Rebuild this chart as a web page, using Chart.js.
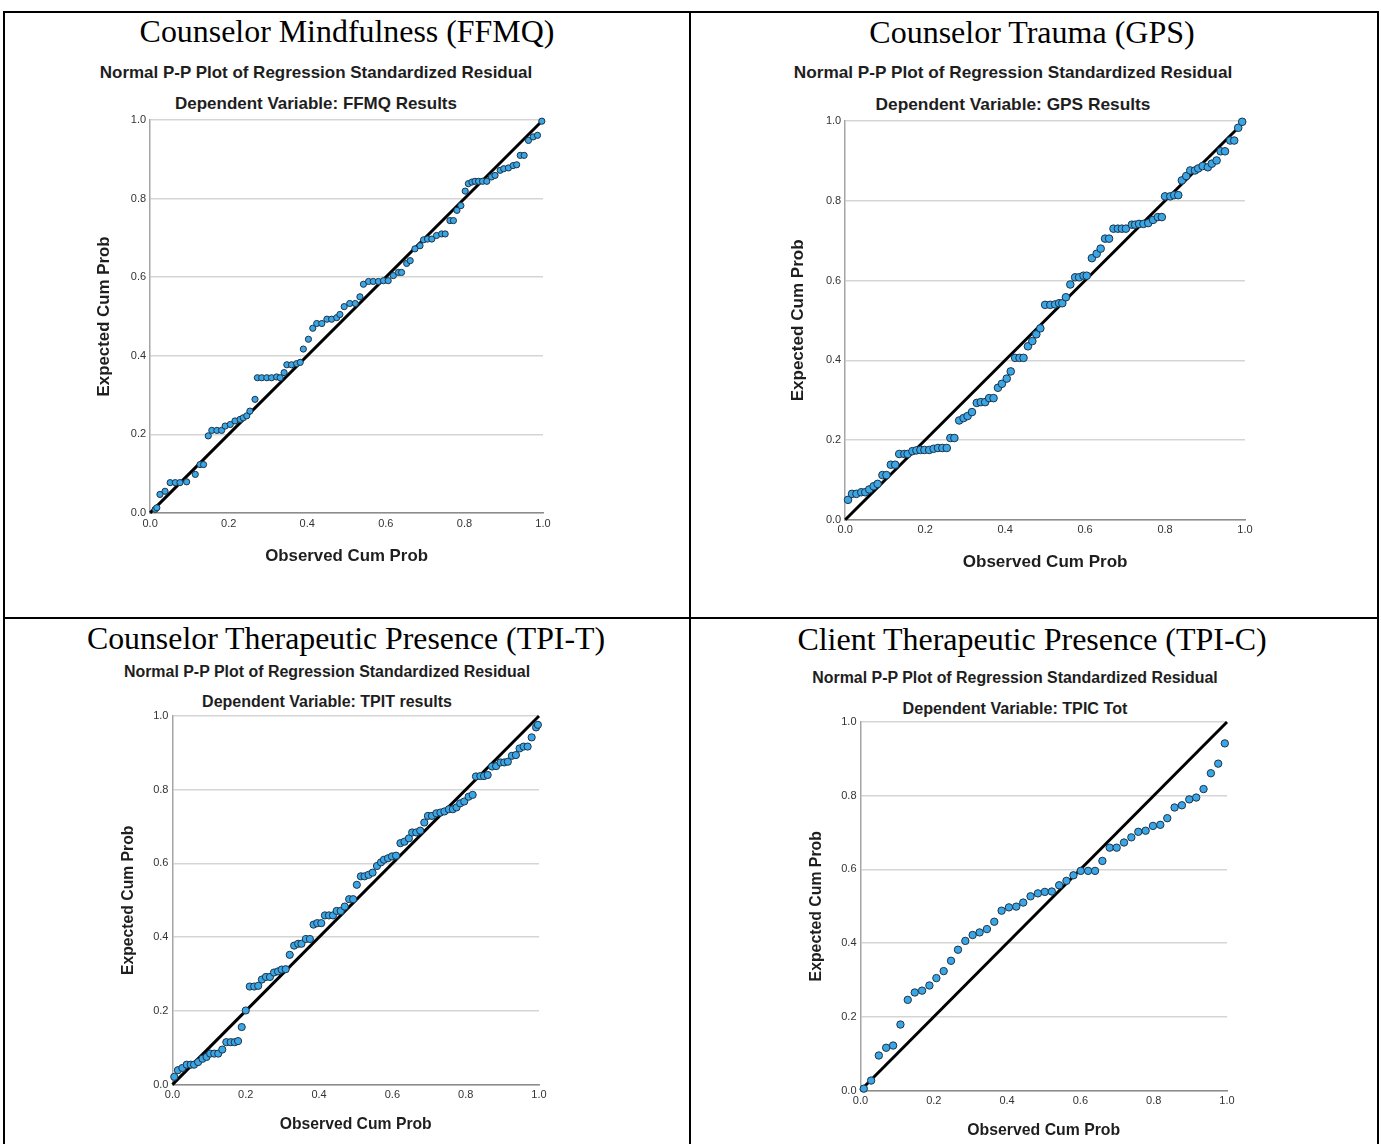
<!DOCTYPE html>
<html><head><meta charset="utf-8">
<script src="https://cdn.jsdelivr.net/npm/chart.js@4.4.1/dist/chart.umd.min.js"></script>
<style>
html,body{margin:0;padding:0;background:#fff}
body{width:1381px;height:1144px;position:relative;overflow:hidden;font-family:"Liberation Sans",Arial,sans-serif}
.b{position:absolute;background:#000}
.t{position:absolute;white-space:nowrap;transform:translate(-50%,-50%);line-height:1}
.main{font-family:"Liberation Serif","Times New Roman",serif;color:#000}
.sub{font-weight:bold;color:#1e1e1e}
canvas{position:absolute}
</style></head><body>
<div class="b" style="left:3px;top:11px;width:1376px;height:2px"></div>
<div class="b" style="left:3px;top:617px;width:1376px;height:2px"></div>
<div class="b" style="left:3px;top:11px;width:2px;height:1140px"></div>
<div class="b" style="left:689px;top:11px;width:2px;height:1140px"></div>
<div class="b" style="left:1377px;top:11px;width:2px;height:1140px"></div>
<script>
// ---------- data ----------
const tickValues = [0.0, 0.2, 0.4, 0.6, 0.8, 1.0];
const xAxisLabel = "Observed Cum Prob";
const yAxisLabel = "Expected Cum Prob";
const panelTitles = ["Counselor Mindfulness (FFMQ)", "Counselor Trauma (GPS)", "Counselor Therapeutic Presence (TPI-T)", "Client Therapeutic Presence (TPI-C)"];
const plotTitle = "Normal P-P Plot of Regression Standardized Residual";
const dependentLabels = ["Dependent Variable: FFMQ Results", "Dependent Variable: GPS Results", "Dependent Variable: TPIT results", "Dependent Variable: TPIC Tot"];

const ffmqObserved = [0.013,0.017,0.025,0.038,0.051,0.064,0.076,0.093,0.115,0.127,0.136,0.148,0.157,0.170,0.182,0.191,0.204,0.216,0.229,0.237,0.246,0.254,0.267,0.273,0.284,0.297,0.309,0.322,0.331,0.341,0.348,0.360,0.373,0.382,0.390,0.403,0.414,0.424,0.437,0.450,0.462,0.475,0.483,0.494,0.508,0.522,0.534,0.543,0.556,0.568,0.581,0.594,0.606,0.619,0.632,0.640,0.653,0.662,0.674,0.687,0.696,0.706,0.717,0.729,0.742,0.751,0.763,0.772,0.781,0.791,0.802,0.810,0.819,0.827,0.836,0.846,0.857,0.869,0.878,0.891,0.900,0.912,0.924,0.933,0.942,0.952,0.963,0.975,0.986,0.997];
const ffmqExpected = [0.009,0.013,0.047,0.055,0.077,0.077,0.077,0.079,0.098,0.123,0.123,0.196,0.210,0.210,0.210,0.221,0.225,0.234,0.238,0.242,0.247,0.259,0.289,0.344,0.344,0.344,0.344,0.346,0.344,0.357,0.377,0.377,0.380,0.383,0.417,0.442,0.470,0.482,0.482,0.493,0.493,0.497,0.505,0.525,0.533,0.533,0.550,0.582,0.589,0.589,0.589,0.591,0.591,0.604,0.612,0.612,0.635,0.642,0.672,0.680,0.695,0.697,0.697,0.706,0.710,0.710,0.744,0.744,0.770,0.782,0.819,0.838,0.842,0.844,0.844,0.844,0.844,0.855,0.859,0.872,0.876,0.878,0.884,0.886,0.910,0.910,0.948,0.957,0.961,0.997];

const gpsObserved = [0.007,0.017,0.028,0.040,0.050,0.060,0.071,0.081,0.093,0.103,0.114,0.125,0.135,0.148,0.156,0.168,0.178,0.188,0.198,0.210,0.221,0.232,0.243,0.254,0.263,0.273,0.285,0.296,0.306,0.317,0.329,0.339,0.350,0.360,0.371,0.382,0.392,0.404,0.414,0.425,0.436,0.446,0.457,0.468,0.478,0.488,0.500,0.513,0.525,0.535,0.543,0.552,0.563,0.575,0.585,0.596,0.604,0.617,0.629,0.639,0.650,0.660,0.671,0.682,0.692,0.702,0.717,0.725,0.735,0.746,0.758,0.770,0.782,0.792,0.800,0.813,0.823,0.833,0.842,0.853,0.863,0.875,0.883,0.894,0.907,0.917,0.929,0.939,0.950,0.963,0.973,0.983,0.993];
const gpsExpected = [0.050,0.065,0.065,0.069,0.069,0.076,0.084,0.090,0.112,0.112,0.138,0.138,0.165,0.165,0.165,0.172,0.174,0.175,0.175,0.175,0.178,0.180,0.180,0.180,0.205,0.205,0.249,0.255,0.260,0.270,0.293,0.295,0.295,0.305,0.305,0.331,0.341,0.354,0.372,0.406,0.406,0.406,0.435,0.448,0.465,0.480,0.539,0.539,0.540,0.543,0.543,0.558,0.590,0.608,0.608,0.612,0.612,0.656,0.667,0.680,0.705,0.705,0.730,0.730,0.730,0.730,0.740,0.740,0.742,0.742,0.744,0.752,0.759,0.759,0.811,0.811,0.814,0.814,0.851,0.862,0.876,0.876,0.881,0.887,0.884,0.893,0.901,0.924,0.924,0.951,0.951,0.983,0.998];

const tpitObserved = [0.005,0.015,0.027,0.039,0.050,0.059,0.070,0.082,0.093,0.103,0.114,0.125,0.136,0.147,0.159,0.170,0.179,0.189,0.200,0.211,0.223,0.234,0.244,0.255,0.266,0.277,0.288,0.298,0.309,0.320,0.332,0.343,0.352,0.364,0.375,0.385,0.395,0.406,0.416,0.427,0.438,0.448,0.459,0.470,0.482,0.493,0.503,0.514,0.524,0.535,0.546,0.558,0.569,0.577,0.588,0.599,0.610,0.622,0.633,0.645,0.654,0.665,0.676,0.687,0.697,0.708,0.720,0.731,0.742,0.754,0.765,0.775,0.785,0.796,0.808,0.819,0.828,0.840,0.850,0.860,0.872,0.883,0.895,0.905,0.915,0.926,0.937,0.947,0.958,0.969,0.980,0.992,0.997];
const tpitExpected = [0.021,0.039,0.045,0.054,0.054,0.054,0.061,0.070,0.075,0.084,0.084,0.084,0.095,0.115,0.115,0.115,0.118,0.156,0.201,0.266,0.266,0.268,0.285,0.292,0.292,0.304,0.307,0.312,0.313,0.352,0.377,0.382,0.382,0.395,0.395,0.434,0.438,0.438,0.459,0.459,0.459,0.471,0.471,0.483,0.503,0.503,0.542,0.565,0.565,0.569,0.575,0.593,0.603,0.610,0.614,0.619,0.621,0.655,0.659,0.668,0.684,0.684,0.689,0.711,0.729,0.729,0.736,0.738,0.741,0.747,0.747,0.752,0.763,0.768,0.781,0.786,0.836,0.837,0.837,0.840,0.863,0.864,0.874,0.874,0.876,0.892,0.894,0.912,0.917,0.917,0.942,0.969,0.976];

const tpicObserved = [0.009,0.029,0.050,0.070,0.089,0.109,0.129,0.148,0.168,0.188,0.207,0.227,0.247,0.266,0.286,0.306,0.325,0.345,0.365,0.385,0.405,0.425,0.444,0.464,0.484,0.503,0.522,0.542,0.562,0.581,0.601,0.621,0.640,0.660,0.680,0.699,0.719,0.739,0.758,0.778,0.798,0.818,0.837,0.857,0.877,0.897,0.916,0.936,0.956,0.976,0.994];
const tpicExpected = [0.005,0.027,0.095,0.116,0.122,0.179,0.246,0.266,0.271,0.285,0.305,0.324,0.352,0.382,0.406,0.422,0.429,0.438,0.458,0.488,0.497,0.499,0.510,0.527,0.535,0.539,0.540,0.557,0.569,0.584,0.596,0.596,0.596,0.623,0.659,0.659,0.673,0.687,0.702,0.705,0.718,0.721,0.739,0.768,0.774,0.790,0.795,0.818,0.861,0.887,0.942];

// ---------- layout ----------
const panels = [
  {obs: ffmqObserved, exp: ffmqExpected, L:150, R:543, T:120, B:513, yTX:104, xTY:556, titleC:[347,32], subC:[316,72], depC:[316,104], subW:433, depW:282, axW:163, r:3.1, lw:3},
  {obs: gpsObserved, exp: gpsExpected, L:845, R:1245, T:121, B:520, yTX:798, xTY:563, titleC:[1032,32], subC:[1013,73], depC:[1013,105], subW:439, depW:275, axW:165, r:3.8, lw:3},
  {obs: tpitObserved, exp: tpitExpected, L:172, R:539, T:716, B:1085, yTX:128, xTY:1125, titleC:[346,639], subC:[327,672], depC:[327,702], subW:407, depW:250, axW:152, r:3.6, lw:3},
  {obs: tpicObserved, exp: tpicExpected, L:860, R:1227, T:722, B:1091, yTX:816, xTY:1131, titleC:[1032,639], subC:[1015,678], depC:[1015,708], subW:406, depW:225, axW:153, r:3.7, lw:3}
];
const mainTitleWidths = [415, 326, 519, 470];

const FAM = '"Liberation Sans", Arial, sans-serif';
const mctx = document.createElement('canvas').getContext('2d');
function fitSize(text, weight, family, target) {
  mctx.font = weight + ' 100px ' + family;
  return 100 * target / mctx.measureText(text).width;
}
function addText(text, cls, cx, cy, size, family, weight) {
  const d = document.createElement('div');
  d.className = 't ' + cls;
  d.textContent = text;
  d.style.left = cx + 'px';
  d.style.top = cy + 'px';
  d.style.fontSize = size + 'px';
  d.style.fontFamily = family;
  d.style.fontWeight = weight;
  document.body.appendChild(d);
}

panels.forEach((p, i) => {
  const serif = '"Liberation Serif", "Times New Roman", serif';
  addText(panelTitles[i], 'main', p.titleC[0], p.titleC[1], fitSize(panelTitles[i], 'normal', serif, mainTitleWidths[i]), serif, 'normal');
  addText(plotTitle, 'sub', p.subC[0], p.subC[1], fitSize(plotTitle, 'bold', FAM, p.subW), FAM, 'bold');
  addText(dependentLabels[i], 'sub', p.depC[0], p.depC[1], fitSize(dependentLabels[i], 'bold', FAM, p.depW), FAM, 'bold');

  const axSize = fitSize(xAxisLabel, 'bold', FAM, p.axW);
  const lh = axSize * 1.2;
  const padTop = 12, padRight = 16;
  const canvasLeft = p.yTX - lh / 2;
  const yW = p.L - canvasLeft;
  const canvasBottom = p.xTY + lh / 2;
  const xH = canvasBottom - p.B;
  const cw = Math.round(yW + (p.R - p.L) + padRight);
  const ch = Math.round(padTop + (p.B - p.T) + xH);
  const cv = document.createElement('canvas');
  cv.width = cw; cv.height = ch;
  cv.style.left = canvasLeft + 'px';
  cv.style.top = (p.T - padTop) + 'px';
  cv.style.width = cw + 'px'; cv.style.height = ch + 'px';
  document.body.appendChild(cv);

  const pts = p.obs.map((x, k) => ({x: x, y: p.exp[k]}));
  const tickFont = {family: FAM, size: 11};
  new Chart(cv.getContext('2d'), {
    type: 'scatter',
    data: {datasets: [
      {type: 'scatter', data: pts, pointRadius: p.r, pointHoverRadius: p.r, backgroundColor: '#3aa6e6', borderColor: '#1d3347', borderWidth: 1, clip: false, order: 0},
      {type: 'line', data: [{x: 0, y: 0}, {x: 1, y: 1}], borderColor: '#000', borderWidth: p.lw, pointRadius: 0, fill: false, clip: false, order: 1}
    ]},
    options: {
      responsive: false, animation: false, devicePixelRatio: 1,
      layout: {padding: {top: padTop, right: padRight, left: 0, bottom: 0}},
      plugins: {legend: {display: false}, tooltip: {enabled: false}, title: {display: false}},
      scales: {
        x: {type: 'linear', min: 0, max: 1,
          afterBuildTicks: s => { s.ticks = tickValues.map(v => ({value: v})); },
          ticks: {callback: v => Number(v).toFixed(1), font: tickFont, color: '#333', padding: 4, maxRotation: 0},
          grid: {display: false, drawTicks: false},
          border: {display: true, color: '#8c8c8c', width: 1.5},
          title: {display: true, text: xAxisLabel, font: {family: FAM, size: axSize, weight: 'bold'}, color: '#1e1e1e', padding: 0},
          afterFit: s => { s.height = xH; }
        },
        y: {type: 'linear', min: 0, max: 1,
          afterBuildTicks: s => { s.ticks = tickValues.map(v => ({value: v})); },
          ticks: {callback: v => Number(v).toFixed(1), font: tickFont, color: '#333', padding: 4},
          grid: {color: '#d5d5d5', lineWidth: 1.5, drawTicks: false},
          border: {display: true, color: '#a5a5a5', width: 1.5},
          title: {display: true, text: yAxisLabel, font: {family: FAM, size: axSize, weight: 'bold'}, color: '#1e1e1e', padding: 0},
          afterFit: s => { s.width = yW; }
        }
      }
    }
  });
});
</script>
</body></html>
